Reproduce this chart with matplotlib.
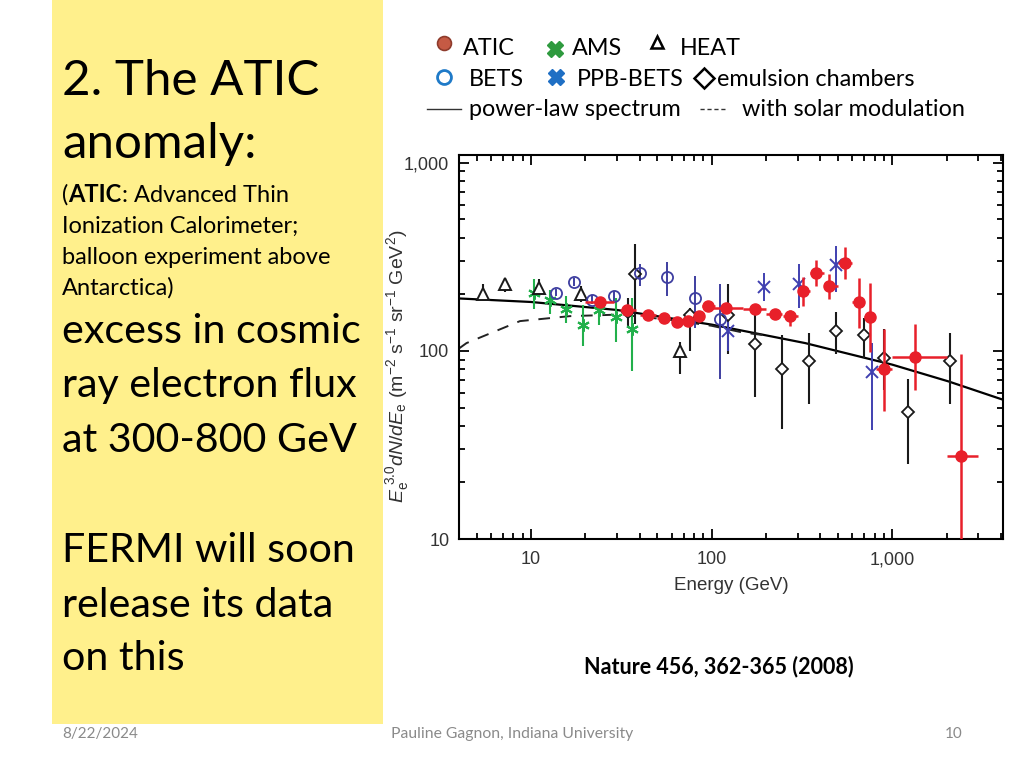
import matplotlib
matplotlib.use('Agg')
import matplotlib.pyplot as plt
import numpy as np
from matplotlib.patches import Rectangle
from matplotlib.ticker import FixedLocator, FuncFormatter, LogLocator, NullFormatter

# ---- data (energy in GeV, flux E^3 dN/dE) ----
atic_e = [24, 34, 44.5, 54.5, 64.5, 74.3, 85, 96, 120, 173, 225, 273, 321, 376, 449, 550, 651, 753, 896, 1340, 2415]
atic_f = [183, 164, 155, 150, 142, 145, 153, 173, 170, 168, 158, 153, 207, 261, 222, 292, 181, 152, 80.5, 92.5, 27.7]
atic_lo = [175, 158, 150, 145, 137, 140, 147, 166, 163, 160, 150, 135, 173, 220, 188, 242, 133, 99, 48, 62, 5]
atic_hi = [192, 170, 160, 155, 147, 150, 159, 180, 177, 176, 167, 165, 248, 303, 257, 355, 245, 230, 130, 139, 96]
atic_elo = [20, 31, 40, 50, 60, 70, 80, 88, 100, 150, 200, 250, 300, 350, 420, 500, 600, 700, 810, 1000, 2000]
atic_ehi = [29, 38, 49, 59, 69, 79, 90, 105, 150, 200, 246, 300, 350, 420, 500, 600, 700, 800, 1000, 2000, 3000]

ams_e = [10.4, 12.8, 15.7, 19.5, 23.9, 29.5, 36.3]
ams_f = [202, 187, 168, 138, 164, 152, 130]
ams_lo = [166, 158, 141, 106, 138, 112, 78]
ams_hi = [240, 210, 196, 176, 192, 192, 192]

bets_e = [13.7, 17.4, 21.8, 28.9, 40, 56.9, 80.5, 111]
bets_f = [204, 231, 187, 196, 258, 246, 192, 147]
bets_lo = [196, 220, 177, 185, 222, 195, 133, 71]
bets_hi = [214, 245, 198, 208, 290, 296, 251, 228]

ppb_e = [123, 196, 306, 488, 773]
ppb_f = [127, 219, 228, 287, 77]
ppb_lo = [100, 184, 169, 205, 38]
ppb_hi = [150, 261, 290, 363, 110]

heat_e = [5.45, 7.2, 11.1, 18.9, 66.5]
heat_f = [200, 226, 217, 200, 99.6]
heat_lo = [184, 205, 196, 181, 75]
heat_hi = [226, 245, 240, 222, 112]

emul_e = [34.4, 37.6, 75.5, 123, 173, 245, 348, 488, 695, 904, 1220, 2090]
emul_f = [160, 256, 156, 156, 109, 80.5, 88.8, 127, 121, 91.8, 47.6, 88.8]
emul_lo = [133, 139, 100, 96, 57, 38.6, 52, 96, 91.5, 62, 25, 52]
emul_hi = [192, 372, 169, 228, 174, 122, 125, 160, 150, 130, 70.5, 125]

pl_e = [4, 10, 30, 100, 330, 1000, 2050, 4100]
pl_f = [190, 182, 165, 138, 110, 84.5, 68.8, 55]
sm_e = [4, 4.4, 8.7, 16.4, 31, 60, 100, 150, 200]
sm_f = [103, 110, 144, 153, 156, 146, 136, 125, 121]

y_ticks = [10, 100, 1000]
x_ticks = [10, 100, 1000]


def yerr(f, lo, hi):
    f = np.array(f, float)
    return [f - np.array(lo, float), np.array(hi, float) - f]


W, H = 1024, 768
fig = plt.figure(figsize=(W / 100, H / 100), dpi=100)
fig.patch.set_facecolor('white')

# overlay in pixel coordinates for the slide decoration
ov = fig.add_axes([0, 0, 1, 1])
ov.set_xlim(0, W)
ov.set_ylim(H, 0)
ov.axis('off')

ov.add_patch(Rectangle((52, 0), 331, 724, facecolor='#FFF08C', edgecolor='none'))

SLIDE_FONT = 'Lato'
renderer = fig.canvas.get_renderer()


def put_parts(x, y, parts, size):
    for s, weight in parts:
        t = ov.text(x, y, s, fontsize=size, fontweight=weight, family=SLIDE_FONT,
                    va='baseline', ha='left', color='black')
        x += t.get_window_extent(renderer).width


ov.text(62, 95, '2. The ATIC', fontsize=35.5, family=SLIDE_FONT, va='baseline')
ov.text(62, 158, 'anomaly:', fontsize=35.5, family=SLIDE_FONT, va='baseline')
put_parts(62, 202, [('(', 'normal'), ('ATIC', 'bold'), (': Advanced Thin', 'normal')], 17)
for y, s in [(233, 'Ionization Calorimeter;'), (264, 'balloon experiment above'), (295, 'Antarctica)')]:
    ov.text(62, y, s, fontsize=17, family=SLIDE_FONT, va='baseline')
for y, s in [(343, 'excess in cosmic'), (397, 'ray electron flux'), (452, 'at 300-800 GeV'),
             (562, 'FERMI will soon'), (617, 'release its data'), (670, 'on this')]:
    ov.text(62, y, s, fontsize=29.7, family=SLIDE_FONT, va='baseline')

# legend at top
leg_fs = 16.8
ov.plot([444], [43], 'o', ms=10, mfc='#C55A44', mec='#8E3B2C', mew=1.2)
ov.text(463, 55, 'ATIC', fontsize=leg_fs, family=SLIDE_FONT, va='baseline')
ov.plot([555], [49], 'X', ms=12, color='#2E9A3E')
ov.text(572, 55, 'AMS', fontsize=leg_fs, family=SLIDE_FONT, va='baseline')
ov.plot([657], [42], '^', ms=9, mfc='none', mec='black', mew=1.8)
ov.text(680, 55, 'HEAT', fontsize=leg_fs, family=SLIDE_FONT, va='baseline')
ov.plot([444], [77], 'o', ms=10, mfc='none', mec='#1F7AC8', mew=2)
ov.text(469, 86, 'BETS', fontsize=leg_fs, family=SLIDE_FONT, va='baseline')
ov.plot([556], [77], 'X', ms=12, color='#1F6FC4')
ov.text(577, 86, 'PPB-BETS', fontsize=leg_fs, family=SLIDE_FONT, va='baseline')
ov.plot([704], [78], 'D', ms=10, mfc='none', mec='black', mew=1.8)
ov.text(717, 86, 'emulsion chambers', fontsize=leg_fs, family=SLIDE_FONT, va='baseline')
ov.plot([427, 461], [109, 109], '-', color='#333333', lw=1)
ov.text(469, 116, 'power-law spectrum', fontsize=leg_fs, family=SLIDE_FONT, va='baseline')
ov.plot([700, 727], [109, 109], '--', color='#333333', lw=1, dashes=(3, 2))
ov.text(742, 116, 'with solar modulation', fontsize=leg_fs, family=SLIDE_FONT, va='baseline')

ov.text(719, 673, 'Nature 456, 362-365 (2008)', fontsize=15.5, fontweight='bold',
        family=SLIDE_FONT, ha='center', va='baseline')
ov.text(62, 738, '8/22/2024', fontsize=11, family=SLIDE_FONT, color='#8A8A8A', va='baseline')
ov.text(512, 738, 'Pauline Gagnon, Indiana University', fontsize=11.3, family=SLIDE_FONT,
        color='#8A8A8A', ha='center', va='baseline')
ov.text(963, 738, '10', fontsize=11, family=SLIDE_FONT, color='#8A8A8A', ha='right', va='baseline')

# ---- the chart ----
plt.rcParams['mathtext.fontset'] = 'custom'
plt.rcParams['mathtext.rm'] = 'Liberation Sans'
plt.rcParams['mathtext.it'] = 'Liberation Sans:italic'

ax = fig.add_axes([459 / W, 1 - 539 / H, 544 / W, 384 / H])
ax.set_xscale('log')
ax.set_yscale('log')
ax.set_xlim(4, 4100)
ax.set_ylim(10, 1100)

ax.plot(pl_e, pl_f, '-', color='black', lw=1.6, zorder=2)
ax.plot(sm_e, sm_f, '--', color='#222222', lw=1.4, dashes=(6, 5), zorder=2)

ax.errorbar(emul_e, emul_f, yerr=yerr(emul_f, emul_lo, emul_hi), fmt='D', ms=6.5,
            mfc='white', mec='#1A1A1A', mew=1.3, ecolor='#1A1A1A', elinewidth=1.5, capsize=0, zorder=3)
ax.errorbar(heat_e, heat_f, yerr=yerr(heat_f, heat_lo, heat_hi), fmt='^', ms=8,
            mfc='white', mec='#1A1A1A', mew=1.4, ecolor='#1A1A1A', elinewidth=1.5, capsize=0, zorder=3)
ax.errorbar(ams_e, ams_f, yerr=yerr(ams_f, ams_lo, ams_hi), fmt='none',
            ecolor='#22B04B', elinewidth=1.5, capsize=0, zorder=3)
ax.plot(ams_e, ams_f, ls='none', marker=(6, 2, 0), ms=9, mec='#22B04B', mew=1.5, zorder=3)
ax.errorbar(bets_e, bets_f, yerr=yerr(bets_f, bets_lo, bets_hi), fmt='o', ms=8,
            mfc='none', mec='#3E3EA0', mew=1.3, ecolor='#3E3EA0', elinewidth=1.4, capsize=0, zorder=3)
ax.errorbar(ppb_e, ppb_f, yerr=yerr(ppb_f, ppb_lo, ppb_hi), fmt='x', ms=8,
            mec='#4040B0', mew=1.4, ecolor='#4040B0', elinewidth=1.4, capsize=0, zorder=3)
ax.errorbar(atic_e, atic_f, yerr=yerr(atic_f, atic_lo, atic_hi),
            xerr=yerr(atic_e, atic_elo, atic_ehi), fmt='o', ms=8,
            color='#E8202A', ecolor='#E8202A', elinewidth=1.8, capsize=0, zorder=4)

for side in ['left', 'right', 'top', 'bottom']:
    ax.spines[side].set_linewidth(1.5)
ax.tick_params(which='both', direction='in', top=True, right=True, colors='black',
               labelcolor='#333333', labelsize=13, width=1.3)
ax.tick_params(which='major', length=7)
ax.tick_params(which='minor', length=4)
ax.tick_params(axis='x', pad=9)
ax.tick_params(axis='y', pad=7)
ax.xaxis.set_major_locator(FixedLocator(x_ticks))
ax.yaxis.set_major_locator(FixedLocator(y_ticks))
ax.xaxis.set_minor_locator(LogLocator(base=10, subs=np.arange(2, 10)))
ax.yaxis.set_minor_locator(LogLocator(base=10, subs=np.arange(2, 10)))
ax.xaxis.set_minor_formatter(NullFormatter())
ax.yaxis.set_minor_formatter(NullFormatter())
fmt = FuncFormatter(lambda v, p: '{:,}'.format(int(round(v))))
ax.xaxis.set_major_formatter(fmt)
ax.yaxis.set_major_formatter(fmt)
for lab in ax.get_xticklabels() + ax.get_yticklabels():
    lab.set_family('Liberation Sans')

ax.set_xlabel('Energy (GeV)', fontsize=13.5, color='#333333', family='Liberation Sans')
ax.set_ylabel(r'$E_\mathrm{e}^{\ 3.0}dN/dE_\mathrm{e}$ (m$^{-2}$ s$^{-1}$ sr$^{-1}$ GeV$^{2}$)',
              fontsize=14, color='#333333', family='Liberation Sans')
ax.xaxis.set_label_coords(0.5, -0.10)
ax.yaxis.set_label_coords(-0.088, 0.45)

fig.savefig('out.png', dpi=100)
